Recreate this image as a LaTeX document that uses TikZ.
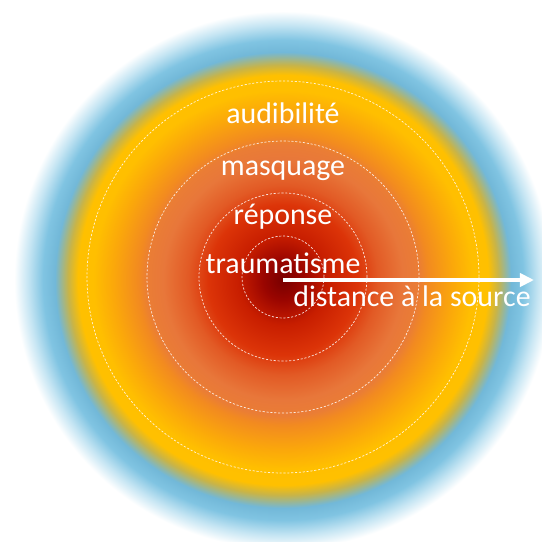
\documentclass[tikz,border=0pt]{standalone}
\usepackage{fontspec}
\setmainfont{Carlito}
\usetikzlibrary{arrows.meta}
\definecolor{s0}{HTML}{780000}
\definecolor{s1}{HTML}{9A0500}
\definecolor{s2}{HTML}{C81E00}
\definecolor{s3}{HTML}{DC3408}
\definecolor{s4}{HTML}{E25A25}
\definecolor{s5}{HTML}{E8773A}
\definecolor{s6}{HTML}{EA7D35}
\definecolor{s7}{HTML}{F28A20}
\definecolor{s8}{HTML}{FBA80A}
\definecolor{s9}{HTML}{FFBF00}
\definecolor{s10}{HTML}{FFC000}
\definecolor{s11}{HTML}{C8B448}
\definecolor{s12}{HTML}{72B8D8}
\definecolor{s13}{HTML}{80C4E2}
\definecolor{s14}{HTML}{C5E5F3}
\pgfdeclareradialshading{soundfield}{\pgfpoint{0bp}{0bp}}{%
color(0bp)=(s0);
color(1.667bp)=(s1);
color(3.75bp)=(s2);
color(6.25bp)=(s3);
color(7.92bp)=(s4);
color(10bp)=(s5);
color(11.33bp)=(s6);
color(12.08bp)=(s7);
color(14.17bp)=(s8);
color(15.83bp)=(s9);
color(17.08bp)=(s10);
color(17.92bp)=(s11);
color(19bp)=(s12);
color(20bp)=(s13);
color(21.25bp)=(s14);
color(22.4bp)=(white);
color(50bp)=(white)}
\tikzset{
  ring/.style={white, line width=0.4pt, dash pattern=on 1.2pt off 1pt, opacity=0.85},
  lbl/.style={text=white, font=\fontsize{17}{20}\selectfont, anchor=base, inner sep=0pt},
  arr/.style={white, line width=2pt, -{Triangle[length=8pt,width=7.5pt]}}
}
\begin{document}
\begin{tikzpicture}[x=0.02cm,y=-0.02cm]
\useasboundingbox (0,0) rectangle (542,542);
\fill[white] (0,0) rectangle (542,542);
\clip (0,0) rectangle (542,542);
\coordinate (cc) at (283,277);
\shade[shading=soundfield] (-17,-20) rectangle (583,580);
\draw[ring] (cc) circle[radius=41];
\draw[ring] (cc) circle[radius=84];
\draw[ring] (cc) circle[radius=136];
\draw[ring] (cc) circle[radius=196];
\node[lbl] (aud) at (283,123) {audibilité};
\node[lbl] (mas) at (283,175) {masquage};
\node[lbl] (rep) at (283,224) {réponse};
\node[lbl] (tra) at (283,273) {traumatisme};
\node[lbl, anchor=base west] (dis) at (293,306) {distance à la source};
\coordinate (src) at (283,280);
\coordinate (tip) at (534,280);
\draw[arr] (src) -- (tip);
\end{tikzpicture}
\end{document}
